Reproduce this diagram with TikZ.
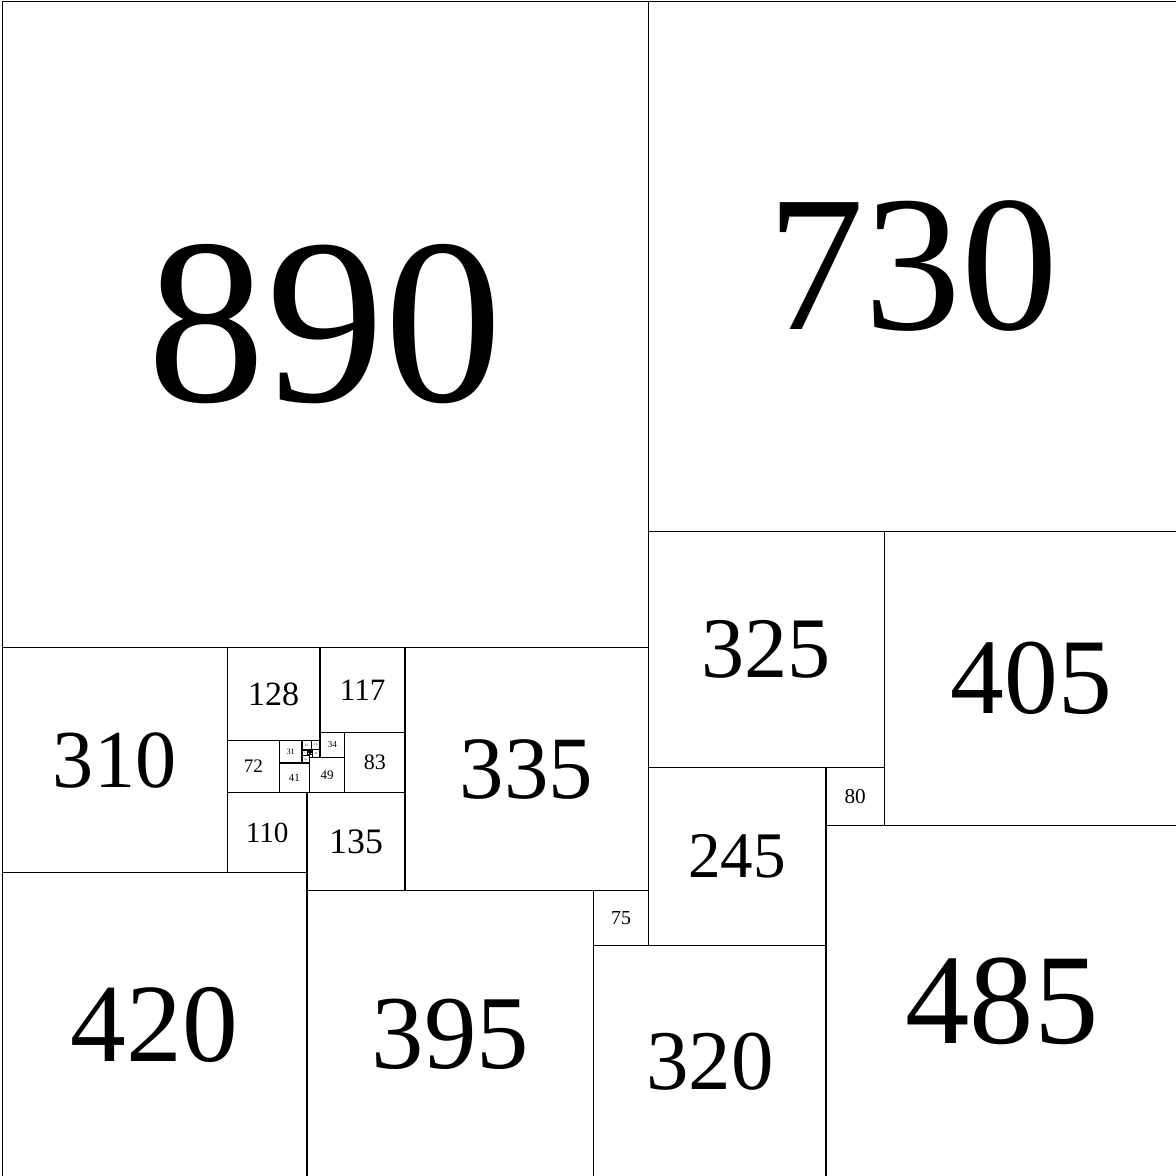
\documentclass[tikz,border=0pt]{standalone}
\usepackage{fontspec}
\setmainfont{Liberation Serif}

% label size grows with the side of the square
\newcommand{\sqfont}[1]{\pgfmathsetmacro{\sqfsz}{#1*0.104}%
  \fontsize{\sqfsz pt}{\sqfsz pt}\selectfont}
\newcommand{\sqnode}[4]{\node[sqbox=#4] (#1) at (#2,#3) {#4};}

\begin{document}
\begin{tikzpicture}[
    x=0.01cm, y=-0.01cm,
    sqbox/.style={draw=black, line width=0.5pt, inner sep=0pt,
                  outer sep=0pt, anchor=north west,
                  minimum size=#1*0.01cm, font=\sqfont{#1},
                  text=black},
]
\useasboundingbox (-3,-2) rectangle (1617,1617);

% --- Outer squares ---
\sqnode{s890}{0}{0}{890}
\sqnode{s730}{890}{0}{730}
\sqnode{s325}{890}{730}{325}
\sqnode{s405}{1215}{730}{405}
\sqnode{s80}{1135}{1055}{80}
\sqnode{s245}{890}{1055}{245}
\sqnode{s485}{1135}{1135}{485}
\sqnode{s320}{815}{1300}{320}
\sqnode{s75}{815}{1225}{75}
\sqnode{s395}{420}{1225}{395}
\sqnode{s420}{0}{1200}{420}
\sqnode{s310}{0}{890}{310}
\sqnode{s335}{555}{890}{335}

% --- Middle ring ---
\sqnode{s128}{310}{890}{128}
\sqnode{s117}{438}{890}{117}
\sqnode{s83}{472}{1007}{83}
\sqnode{s135}{420}{1090}{135}
\sqnode{s110}{310}{1090}{110}
\sqnode{s72}{310}{1018}{72}

% --- Inner ring ---
\sqnode{s31}{382}{1018}{31}
\sqnode{s34}{438}{1007}{34}
\sqnode{s49}{423}{1041}{49}
\sqnode{s41}{382}{1049}{41}

% --- Centre ---
\sqnode{s13}{413}{1018}{13}
\sqnode{s12}{426}{1018}{12}
\sqnode{s11}{427}{1030}{11}
\sqnode{s8}{413}{1031}{8}
\sqnode{s10}{413}{1039}{10}
\sqnode{s3a}{421}{1031}{3}
\sqnode{s3b}{424}{1031}{3}
\sqnode{s3c}{421}{1034}{3}
\sqnode{s3d}{424}{1034}{3}
\sqnode{s2}{421}{1037}{2}
\sqnode{s4}{423}{1037}{4}

\end{tikzpicture}
\end{document}
